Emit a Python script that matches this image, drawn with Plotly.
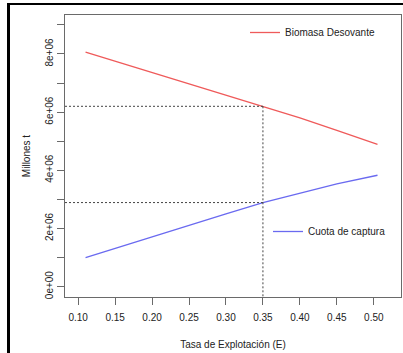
import plotly.graph_objects as go

# Data
tasa_e = [0.11, 0.15, 0.20, 0.25, 0.30, 0.35, 0.40, 0.45, 0.505]
biomasa_desovante = [8.06e6, 7.75e6, 7.37e6, 6.98e6, 6.59e6, 6.20e6, 5.80e6, 5.37e6, 4.89e6]
cuota_captura = [1.00e6, 1.32e6, 1.72e6, 2.11e6, 2.50e6, 2.89e6, 3.22e6, 3.53e6, 3.83e6]
e_ref = 0.35
bio_ref = 6.20e6
cuota_ref = 2.89e6

x_ticks = [0.10, 0.15, 0.20, 0.25, 0.30, 0.35, 0.40, 0.45, 0.50]
x_ticktext = ["0.10", "0.15", "0.20", "0.25", "0.30", "0.35", "0.40", "0.45", "0.50"]
y_ticks = [0, 1e6, 2e6, 3e6, 4e6, 5e6, 6e6, 7e6, 8e6, 9e6]
y_ticktext = ["0e+00", "", "2e+06", "", "4e+06", "", "6e+06", "", "8e+06", ""]

X_RANGE = [0.0822, 0.5368]
Y_RANGE = [-0.357e6, 9.34e6]

W, H = 403, 353
ML, MR, MT, MB = 65, 2, 15, 56
PW, PH = W - ML - MR, H - MT - MB

def px(x):
    return (x - ML) / PW

def py(y):
    return (H - MB - y) / PH

FONT = "Liberation Sans, Arial, sans-serif"
TXT = "#222222"
AX = "#6a6a6a"

fig = go.Figure()

fig.add_trace(go.Scatter(
    x=tasa_e, y=biomasa_desovante, mode="lines", name="Biomasa Desovante",
    line=dict(color="#ef5a5a", width=1.3), legend="legend"))
fig.add_trace(go.Scatter(
    x=tasa_e, y=cuota_captura, mode="lines", name="Cuota de captura",
    line=dict(color="#6a6af0", width=1.3), legend="legend2"))

dot = dict(color="#444444", width=1, dash="2px,2px")
# reference lines
fig.add_trace(go.Scatter(x=[X_RANGE[0], e_ref], y=[bio_ref, bio_ref], mode="lines",
                         line=dot, showlegend=False, hoverinfo="skip"))
fig.add_trace(go.Scatter(x=[X_RANGE[0], e_ref], y=[cuota_ref, cuota_ref], mode="lines",
                         line=dot, showlegend=False, hoverinfo="skip"))
fig.add_trace(go.Scatter(x=[e_ref, e_ref], y=[bio_ref, Y_RANGE[0]], mode="lines",
                         line=dot, showlegend=False, hoverinfo="skip"))

# outer black frame (left and top)
fig.add_shape(type="line", xref="paper", yref="paper",
              x0=px(8.5), x1=px(8.5), y0=py(3), y1=py(H + 2),
              line=dict(color="black", width=3))
fig.add_shape(type="line", xref="paper", yref="paper",
              x0=px(7), x1=px(W + 2), y0=py(4), y1=py(4),
              line=dict(color="black", width=2))

fig.update_layout(
    width=W, height=H,
    margin=dict(l=ML, r=MR, t=MT, b=MB),
    paper_bgcolor="white", plot_bgcolor="white",
    font=dict(family=FONT, size=10, color=TXT),
    legend=dict(x=px(245), y=py(18), xanchor="left", yanchor="top",
                bgcolor="rgba(0,0,0,0)", borderwidth=0,
                font=dict(size=10, color=TXT), itemwidth=30),
    legend2=dict(x=px(268), y=py(217), xanchor="left", yanchor="top",
                 bgcolor="rgba(0,0,0,0)", borderwidth=0,
                 font=dict(size=10, color=TXT), itemwidth=30),
    xaxis=dict(range=X_RANGE, tickvals=x_ticks, ticktext=x_ticktext,
               showgrid=False, zeroline=False, showline=True, mirror=True,
               linecolor=AX, linewidth=1, ticks="outside", ticklen=7,
               tickcolor=AX, tickfont=dict(size=10, color=TXT),
               ticklabelstandoff=4,
               title=dict(text="Tasa de Explotación (E)", standoff=18,
                          font=dict(size=10, color=TXT))),
    yaxis=dict(range=Y_RANGE, tickvals=y_ticks, ticktext=y_ticktext,
               tickangle=-90,
               showgrid=False, zeroline=False, showline=True, mirror=True,
               linecolor=AX, linewidth=1, ticks="outside", ticklen=7,
               tickcolor=AX, tickfont=dict(size=10, color=TXT),
               title=dict(text="Millones t", standoff=11,
                          font=dict(size=10, color=TXT))),
)

fig.write_html("out.html")
